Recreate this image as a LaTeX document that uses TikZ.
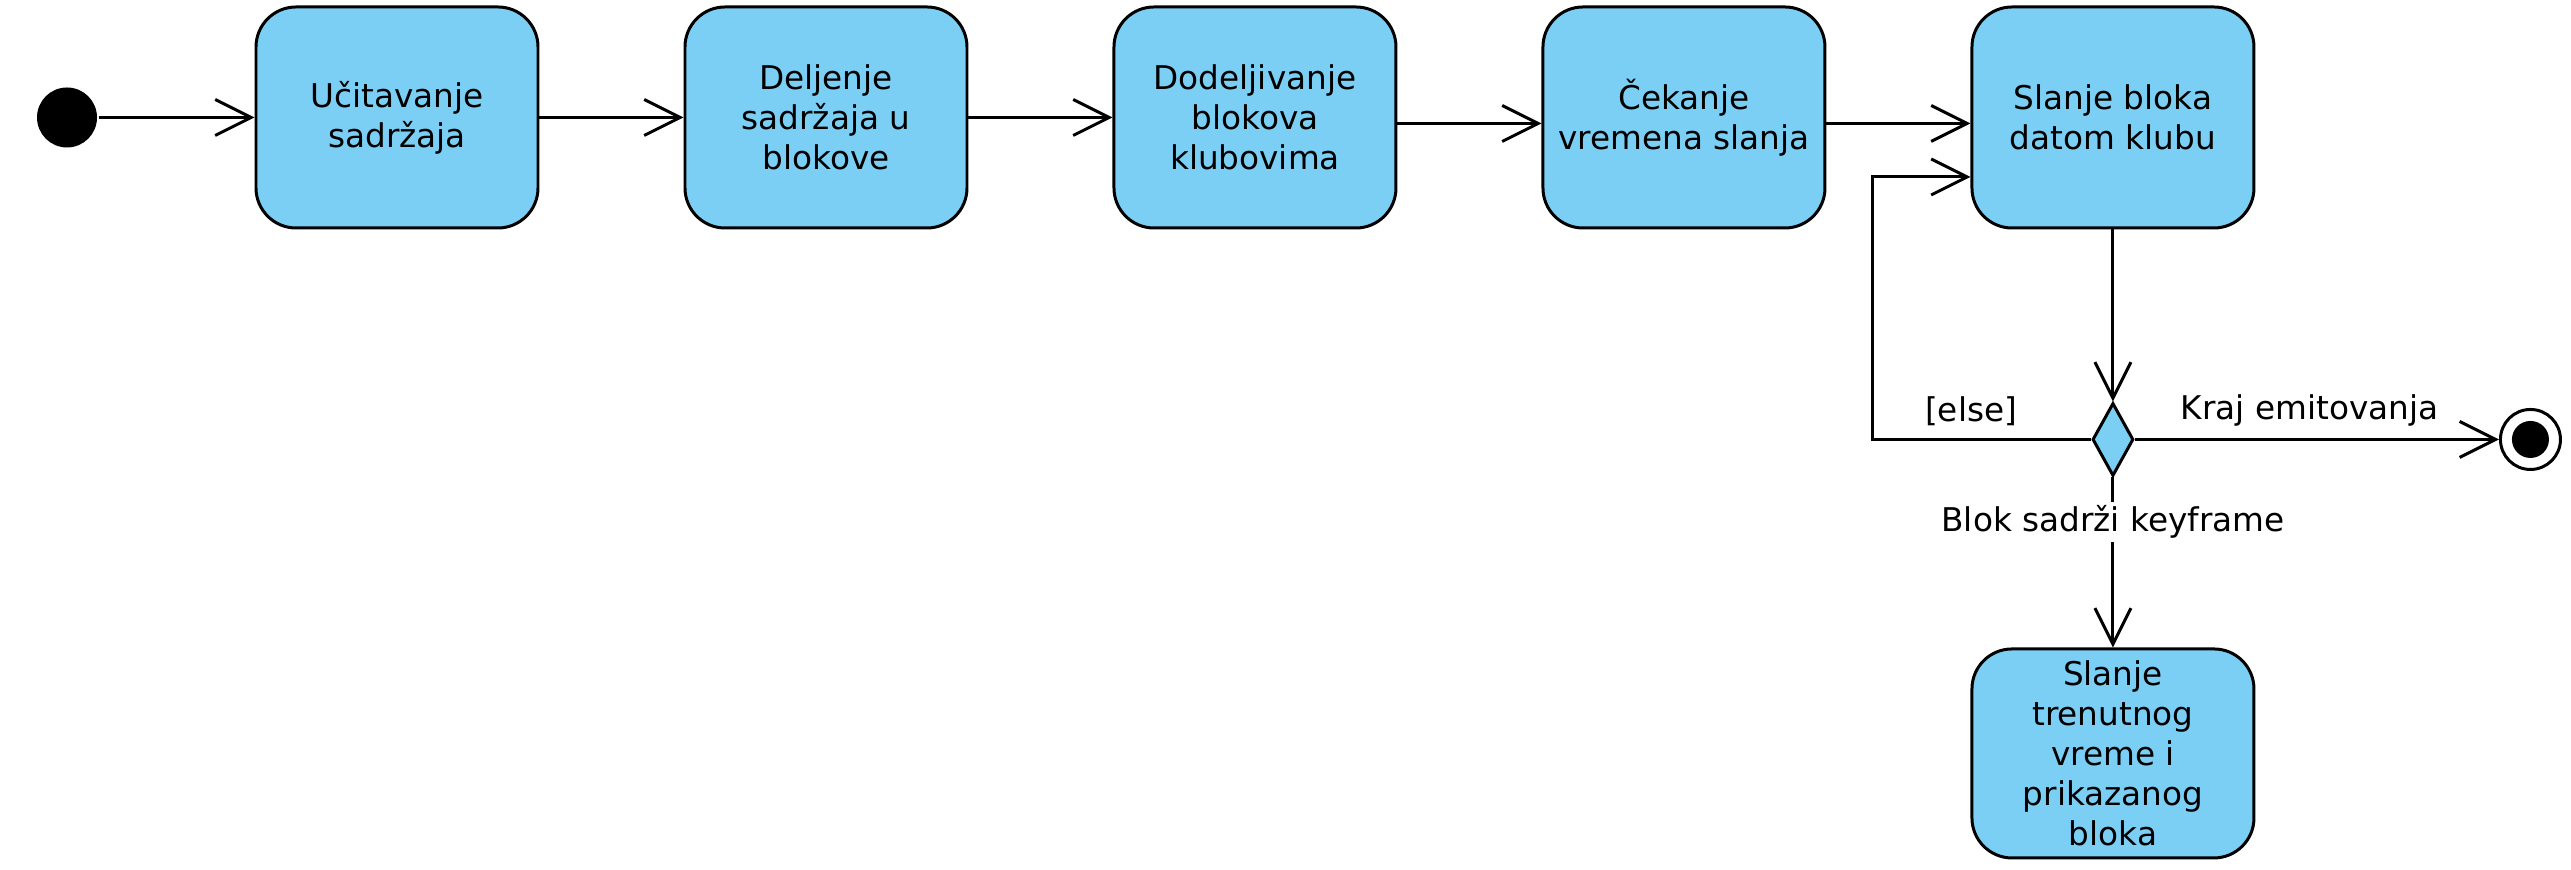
\documentclass[tikz,border=0pt]{standalone}
\usepackage{fontspec}
\setmainfont{DejaVu Sans}
\usetikzlibrary{arrows.meta, positioning, shapes.geometric}
\definecolor{actblue}{RGB}{123,207,244}

\begin{document}
\begin{tikzpicture}[>={Straight Barb[length=3.6mm, width=3.6mm]}, line width=0.85pt,
    node distance=1.44cm,
    act/.style={draw, rounded corners=0.4cm, fill=actblue, minimum width=2.82cm,
      minimum height=2.21cm, inner sep=0pt, align=center,
      font=\fontsize{9.3}{11.4}\selectfont},
    choice/.style={draw, diamond, fill=actblue, minimum width=0.41cm,
      minimum height=0.73cm, inner sep=0pt},
    lbl/.style={font=\fontsize{9.3}{11.4}\selectfont}]
  \useasboundingbox (0,0) rectangle (25.71,8.70);

  % Activities in a row
  \node[act] (load) at (3.97,7.525) {Učitavanje\\sadržaja};
  \node[act, right=of load] (split) {Deljenje\\sadržaja u\\blokove};
  \node[act, right=of split] (assign) {Dodeljivanje\\blokova\\klubovima};
  \node[act, right=of assign] (wait) {Čekanje\\vremena slanja};
  \node[act, right=of wait] (send) {Slanje bloka\\datom klubu};

  % Start, decision and end
  \node[circle, fill=black, minimum size=0.6cm, inner sep=0pt,
        left=1.56cm of load] (init) {};
  \node[choice, below=1.72cm of send] (gate) {};
  \node[draw, circle, fill=white, minimum size=0.6cm, inner sep=0pt,
        right=3.64cm of gate] (stop) {};
  \node[circle, fill=black, minimum size=0.37cm, inner sep=0pt] (stopdot) at (stop) {};
  \node[act, minimum height=2.09cm, below=1.70cm of gate] (key)
    {Slanje\\trenutnog\\vreme i\\prikazanog\\bloka};

  % Loop back points
  \coordinate[left=2.18cm of gate.west] (loopA);
  \coordinate (sendin) at ([yshift=-0.595cm]send.west);

  % Flow arrows
  \draw[->] (init) -- (load);
  \draw[->] (load) -- (split);
  \draw[->] (split) -- (assign);
  \draw[->] ([yshift=-0.06cm]assign.east) -- ([yshift=-0.06cm]wait.west);
  \draw[->] ([yshift=-0.06cm]wait.east) -- ([yshift=-0.06cm]send.west);
  \draw[->] (send) -- (gate);
  \draw[->] (gate.west) -- node[lbl, above, pos=0.55] {[else]} (loopA) |- (sendin);
  \draw[->] (gate.east) -- node[lbl, above, pos=0.48] {Kraj emitovanja} (stop);
  \draw[->] (gate.south) -- node[lbl, fill=white, inner sep=1pt, pos=0.26]
    {Blok sadrži keyframe} (key);
\end{tikzpicture}
\end{document}
